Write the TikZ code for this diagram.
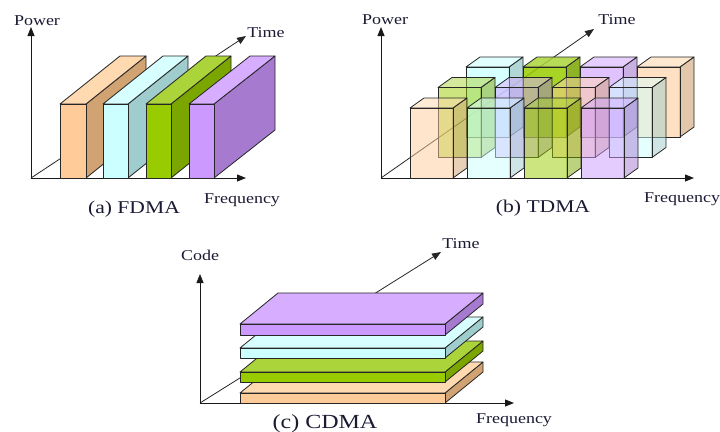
\documentclass[tikz,border=0pt]{standalone}
\usepackage{fontspec}
\setmainfont{Liberation Serif}
\newfontfamily\lblfont[FakeStretch=1.2]{Liberation Serif}
\usetikzlibrary{arrows.meta}

% face colours: front (F), top (T), side (S)
\definecolor{FOr}{HTML}{FFCC99}\definecolor{TOr}{HTML}{FFD9B0}\definecolor{SOr}{HTML}{D1A272}
\definecolor{FCy}{HTML}{CCFFFF}\definecolor{TCy}{HTML}{D8FFFF}\definecolor{SCy}{HTML}{9FCCCC}
\definecolor{FGr}{HTML}{99CC00}\definecolor{TGr}{HTML}{AAD43A}\definecolor{SGr}{HTML}{7BA600}
\definecolor{FPu}{HTML}{CC99FF}\definecolor{TPu}{HTML}{D6ADFF}\definecolor{SPu}{HTML}{A57ACF}
\definecolor{txt}{HTML}{1A1A33}

% cuboid: {x left}{y bottom}{width}{height}{depth dx}{depth rise}{colour key}{options}
\newcommand{\cuboid}[8]{%
  \filldraw[box,fill=S#7,#8] (#1+#3,#2) -- ++(#5,-#6) -- ++(0,-#4) -- ++(-#5,#6) -- cycle;
  \filldraw[box,fill=T#7,#8] (#1,#2-#4) -- ++(#5,-#6) -- ++(#3,0) -- ++(-#5,#6) -- cycle;
  \filldraw[box,fill=F#7,#8] (#1,#2) rectangle ++(#3,-#4);}

\begin{document}
\begin{tikzpicture}[x=1pt,y=-1pt,
  axis/.style={line width=1pt,draw=black!90,-{Triangle[length=9pt,width=7pt]}},
  tline/.style={line width=0.8pt,draw=black!85,-{Triangle[length=9pt,width=7pt]}},
  box/.style={draw=black!85,line width=0.8pt,line join=round},
  lbl/.style={font=\lblfont\fontsize{15}{15}\selectfont,anchor=base,inner sep=0pt,text=txt},
  capt/.style={font=\lblfont\fontsize{18}{18}\selectfont,anchor=base,inner sep=0pt,text=txt}]
\useasboundingbox (0,0) rectangle (720,431);

% ---------------- (a) FDMA ----------------
\coordinate (A0) at (31,178);
\coordinate (Ap) at (31,27);
\coordinate (Af) at (246,178);
\coordinate (At) at (246,36);
\draw[tline] (A0) -- (At);
\draw[axis] (A0) -- (Ap);
\draw[axis] (A0) -- (Af);
\cuboid{60}{178}{26}{74}{60}{48}{Or}{}
\cuboid{103}{178}{25}{74}{60}{48}{Cy}{}
\cuboid{146}{178}{25}{74}{60}{48}{Gr}{}
\cuboid{189}{178}{25}{74}{61}{48}{Pu}{}
\node[lbl] (Apl) at (37,25) {Power};
\node[lbl] (Atl) at (266,37) {Time};
\node[lbl] (Afl) at (242,203) {Frequency};
\node[capt] (Acap) at (134,213) {(a) FDMA};

% ---------------- (b) TDMA ----------------
\coordinate (B0) at (381,178);
\coordinate (Bp) at (381,27);
\coordinate (Bf) at (694,178);
\coordinate (Bt) at (594,29);
\draw[tline] (B0) -- (Bt);
\draw[axis] (B0) -- (Bp);
\draw[axis] (B0) -- (Bf);
% back row
\cuboid{466}{137}{43}{70}{14}{10}{Cy}{fill opacity=0.8}
\cuboid{523}{137}{43}{70}{14}{10}{Gr}{fill opacity=0.85}
\cuboid{580}{137}{43}{70}{14}{10}{Pu}{fill opacity=0.6}
\cuboid{637}{137}{43}{70}{14}{10}{Or}{fill opacity=0.6}
% middle row
\cuboid{438}{157.5}{43}{70}{14}{10}{Gr}{fill opacity=0.5}
\cuboid{495}{157.5}{43}{70}{14}{10}{Pu}{fill opacity=0.5}
\cuboid{552}{157.5}{43}{70}{14}{10}{Or}{fill opacity=0.5}
\cuboid{609}{157.5}{43}{70}{14}{10}{Cy}{fill opacity=0.5}
% front row
\cuboid{410}{178}{43}{70}{14}{10}{Or}{fill opacity=0.5}
\cuboid{467}{178}{43}{70}{14}{10}{Cy}{fill opacity=0.5}
\cuboid{524}{178}{43}{70}{14}{10}{Gr}{fill opacity=0.5}
\cuboid{581}{178}{43}{70}{14}{10}{Pu}{fill opacity=0.5}
\node[lbl] (Bpl) at (385,24) {Power};
\node[lbl] (Btl) at (617,24) {Time};
\node[lbl] (Bfl) at (682,202) {Frequency};
\node[capt] (Bcap) at (543,212) {(b) TDMA};

% ---------------- (c) CDMA ----------------
\coordinate (C0) at (200,403);
\coordinate (Cc) at (200,274);
\coordinate (Cf) at (514,403);
\coordinate (Ct) at (441,252);
\draw[tline] (C0) -- (Ct);
\draw[axis] (C0) -- (Cc);
\draw[axis] (C0) -- (Cf);
\cuboid{240}{403}{205}{10}{38}{31}{Or}{}
\cuboid{240}{382}{205}{10}{38}{31}{Gr}{}
\cuboid{240}{358}{205}{10}{38}{31}{Cy}{}
\cuboid{240}{335}{205}{11}{38}{31}{Pu}{}
\node[lbl] (Ccl) at (200,260) {Code};
\node[lbl] (Ctl) at (461,248) {Time};
\node[lbl] (Cfl) at (514,423) {Frequency};
\node[capt,font=\lblfont\fontsize{20}{20}\selectfont] (Ccap) at (325,428) {(c) CDMA};
\end{tikzpicture}
\end{document}
